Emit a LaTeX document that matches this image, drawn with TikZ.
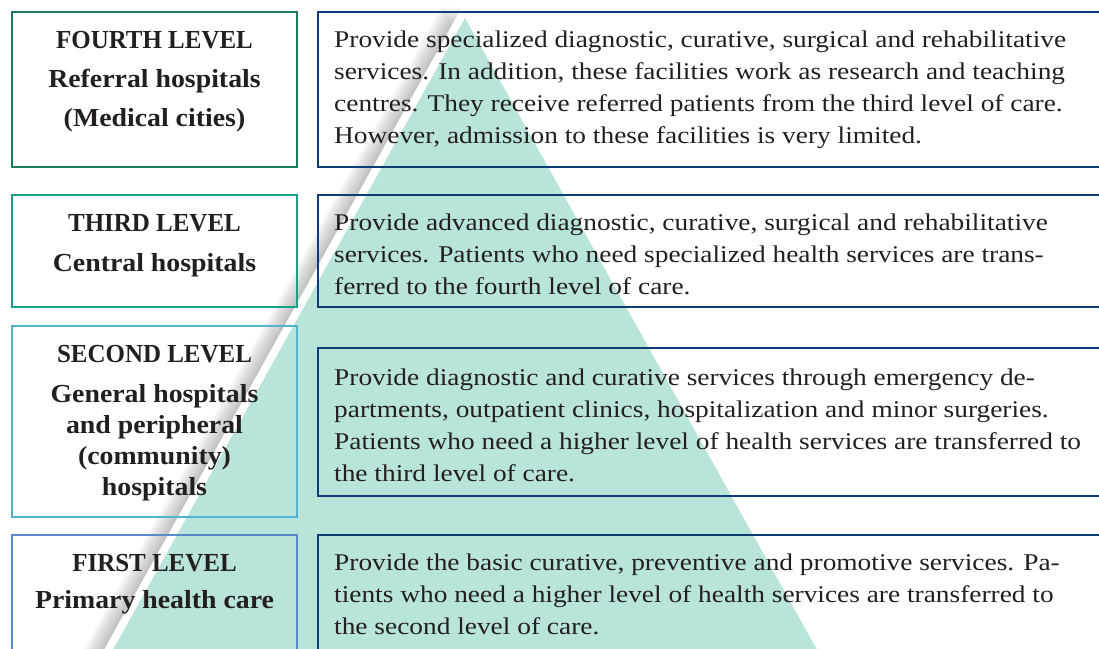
\documentclass[tikz,border=0pt]{standalone}
\usepackage{fontspec}
\setmainfont{Liberation Serif}
\newfontfamily\descfont{Liberation Serif}[FakeStretch=1.14]
\newfontfamily\lvlfont{Liberation Serif}[FakeStretch=1.07]
\newfontfamily\headfont{Liberation Serif}[FakeStretch=0.96]
\usetikzlibrary{positioning}
\definecolor{deepgreen}{HTML}{1B7B5F}
\definecolor{midgreen}{HTML}{17A085}
\definecolor{skyline}{HTML}{52B3D0}
\definecolor{softblue}{HTML}{5B8BC6}
\definecolor{navy}{HTML}{0E3D75}
\definecolor{mint}{HTML}{B9E4DA}
\definecolor{ink}{HTML}{231F20}

\begin{document}
\begin{tikzpicture}[x=1pt,y=-1pt,
  lvlbox/.style={draw, line width=2.2pt, anchor=north west, outer sep=0pt, inner sep=0pt, minimum width=285pt},
  descbox/.style={draw=navy, line width=2.2pt, anchor=north west, outer sep=0pt, inner sep=0pt, minimum width=797pt},
  lvltext/.style={text=ink, align=center, anchor=north, inner sep=0pt, font=\lvlfont\bfseries\fontsize{26}{31}\selectfont},
  desctext/.style={text=ink, align=left, anchor=north west, inner sep=0pt, font=\descfont\fontsize{24}{32}\selectfont}]
\useasboundingbox (0,0) rectangle (1099,648);
\clip (0,0) rectangle (1099,648);

\foreach \s in {1,...,14}
  \fill[black, opacity=0.018, xshift=-\s*1.5pt] (462,7) -- (848,700) -- (76,700) -- cycle;
\fill[white] (462,7) -- (848,700) -- (76,700) -- cycle;
\fill[mint] (465,18) -- (845,700) -- (85,700) -- cycle;

\node[lvlbox, draw=deepgreen, minimum height=155pt] (fourthbox) at (12,12) {};
\node[lvlbox, draw=midgreen, minimum height=112pt] (thirdbox) at (12,195) {};
\node[lvlbox, draw=skyline, minimum height=191pt] (secondbox) at (12,326) {};
\node[lvlbox, draw=softblue, minimum height=125pt] (firstbox) at (12,535) {};

\node[descbox, minimum height=155pt] (fourthdesc) at (318,12) {};
\node[descbox, minimum height=112pt] (thirddesc) at (318,195) {};
\node[descbox, minimum height=148pt] (seconddesc) at (318,348) {};
\node[descbox, minimum height=125pt] (firstdesc) at (318,535) {};

\node[lvltext] (fourthtitle) at (154.5,31) {{\headfont FOURTH LEVEL}\\[8pt] Referral hospitals\\[8pt] (Medical cities)};
\node[lvltext] (thirdtitle) at (154.5,214) {{\headfont THIRD LEVEL}\\[9pt] Central hospitals};
\node[lvltext] (secondtitle) at (154.5,345) {{\headfont SECOND LEVEL}\\[9pt] General hospitals\\ and peripheral\\ (community)\\ hospitals};
\node[lvltext] (firsttitle) at (154.5,554) {{\headfont FIRST LEVEL}\\[6pt] Primary health care};

\node[desctext] (fourthtext) at (334,30.6) {Provide specialized diagnostic, curative, surgical and rehabilitative\\ services. In addition, these facilities work as research and teaching\\ centres. They receive referred patients from the third level of care.\\ However, admission to these facilities is very limited.};
\node[desctext] (thirdtext) at (334,213.6) {Provide advanced diagnostic, curative, surgical and rehabilitative\\ services. Patients who need specialized health services are trans-\\ ferred to the fourth level of care.};
\node[desctext] (secondtext) at (334,368.6) {Provide diagnostic and curative services through emergency de-\\ partments, outpatient clinics, hospitalization and minor surgeries.\\ Patients who need a higher level of health services are transferred to\\ the third level of care.};
\node[desctext] (firsttext) at (334,553.6) {Provide the basic curative, preventive and promotive services. Pa-\\ tients who need a higher level of health services are transferred to\\ the second level of care.};
\end{tikzpicture}
\end{document}
